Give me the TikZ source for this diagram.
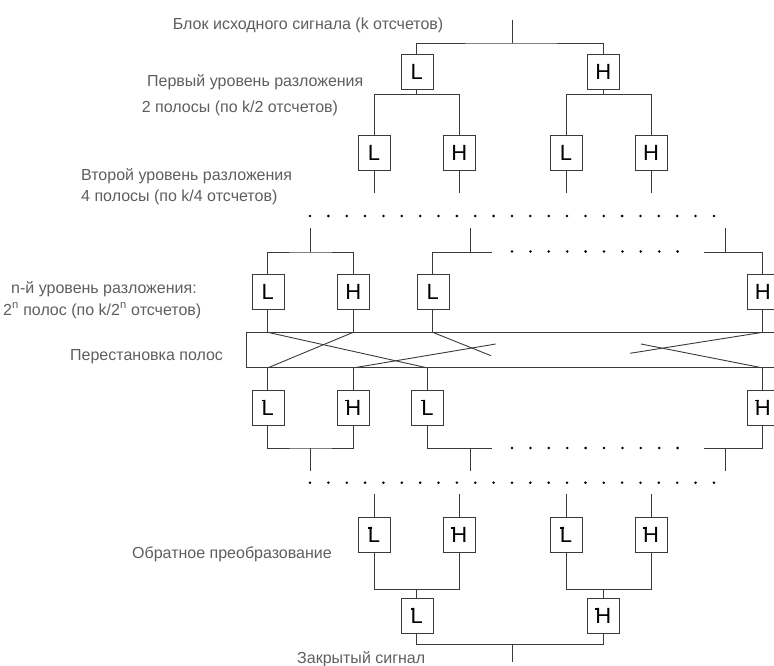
\documentclass[tikz,border=0pt]{standalone}
\usepackage{fontspec}
\setmainfont{Liberation Sans}

\definecolor{linegray}{HTML}{3A3A3A}
\definecolor{textgray}{HTML}{5E5E5E}

%% inverse filter letter (small tick on top)
\newcommand{\inv}[1]{\rlap{\kern0.0em\raisebox{0.63em}{\rule{0.17em}{0.08em}}}#1}

\tikzset{
  filt/.style={draw=linegray, fill=white, minimum width=32pt, minimum height=35pt,
    inner sep=0pt, font=\fontsize{22}{22}\selectfont},
  lbl/.style={anchor=base west, inner sep=0pt, text=textgray,
    font=\fontsize{16}{19}\selectfont},
  wire/.style={draw=linegray, line width=0.9pt},
}

\begin{document}
\begin{tikzpicture}[x=1pt, y=-1pt]
\useasboundingbox (0,0) rectangle (774,666);

%% labels
\node[lbl] at (172.7,29.3) (srclbl) {Блок исходного сигнала (k отсчетов)};
\node[lbl] at (147,87) (lev1a) {Первый уровень разложения};
\node[lbl] at (141.7,112.7) (lev1b) {2 полосы (по k/2 отсчетов)};
\node[lbl] at (81,181) (lev2a) {Второй уровень разложения};
\node[lbl] at (81,201.7) (lev2b) {4 полосы (по k/4 отсчетов)};
\node[lbl] at (11,293.3) (levna) {n-й уровень разложения:};
\node[lbl] at (3,315) (levnb) {2\textsuperscript{n} полос (по k/2\textsuperscript{n} отсчетов)};
\node[lbl] at (70,360.7) (permlbl) {Перестановка полос};
\node[lbl] at (132,558) (invlbl) {Обратное преобразование};
\node[lbl] at (297,663) (outlbl) {Закрытый сигнал};

%% first level
\node[filt] at (416.7,71.8) (L1) {L};
\node[filt] at (603.3,71.8) (H1) {H};

%% second level
\node[filt] at (374,152.5) (LL) {L};
\node[filt] at (459.3,152.5) (LH) {H};
\node[filt] at (566,152.5) (HL) {L};
\node[filt] at (651,152.5) (HH) {H};

%% n-th level
\node[filt] at (267.7,291.8) (nL1) {L};
\node[filt] at (353.3,291.8) (nH1) {H};
\node[filt] at (432.7,291.8) (nL2) {L};
\node[filt] at (762.7,291.8) (nHk) {H};

%% band permutation
\node[draw=linegray, line width=0.9pt, minimum width=540pt, minimum height=34.7pt,
  inner sep=0pt, anchor=north west] at (246,332.3) (perm) {};

%% inverse, n-th level
\node[filt] at (267.7,407.5) (iL1) {\inv{L}};
\node[filt] at (353.3,407.5) (iH1) {\inv{H}};
\node[filt] at (427.5,407.5) (iL2) {\inv{L}};
\node[filt] at (762.7,407.5) (iHk) {\inv{H}};

%% inverse, second level
\node[filt] at (374,534.8) (bLL) {\inv{L}};
\node[filt] at (459.3,534.8) (bLH) {\inv{H}};
\node[filt] at (566,534.8) (bHL) {\inv{L}};
\node[filt] at (651,534.8) (bHH) {\inv{H}};

%% inverse, first level
\node[filt] at (416.7,615.8) (rL) {\inv{L}};
\node[filt] at (603.3,615.8) (rH) {\inv{H}};

%% coordinates
\coordinate (src) at (512.7,20);
\coordinate (srcj) at (512.7,43);
\coordinate (j1) at (416.7,94.3);
\coordinate (j2) at (603.3,94.3);
\coordinate (row1) at (0,193.3);
\coordinate (tA) at (310.7,228.3);
\coordinate (jA) at (310.7,252);
\coordinate (tB) at (470,228.3);
\coordinate (jB) at (470,252);
\coordinate (eB) at (491.7,252);
\coordinate (tC) at (725.7,228.3);
\coordinate (jC) at (725.7,252);
\coordinate (eC) at (704,252);
\coordinate (xa) at (491,355.7);
\coordinate (xb) at (495.7,344);
\coordinate (xc) at (630,353.3);
\coordinate (xd) at (641,344);
\coordinate (kA) at (310.7,448);
\coordinate (bA) at (310.7,471);
\coordinate (kB) at (470,448);
\coordinate (bB) at (470,471);
\coordinate (fB) at (491.7,448);
\coordinate (kC) at (725.7,448);
\coordinate (bC) at (725.7,471);
\coordinate (fC) at (704,448);
\coordinate (row2) at (0,494.3);
\coordinate (m1) at (416.7,589.3);
\coordinate (m2) at (603.3,589.3);
\coordinate (out) at (512.7,644.3);
\coordinate (outend) at (512.7,661.7);

%% top tree
\draw[wire] (src) -- (srcj);
\draw[wire] (L1.north) |- (srcj) -| (H1.north);
\draw[wire] (L1) -- (j1);
\draw[wire] (H1) -- (j2);
\draw[wire] (LL.north) |- (j1) -| (LH.north);
\draw[wire] (HL.north) |- (j2) -| (HH.north);
\foreach \n in {LL,LH,HL,HH}
  \draw[wire] (\n.south) -- (\n.south |- row1);

%% dotted rows
\foreach \i in {0,...,22} {
  \fill ({310+18.36*\i},216) circle (1.4pt);
  \fill ({310+18.36*\i},482.7) circle (1.4pt);
}
\foreach \i in {0,...,9} {
  \fill ({512+18.4*\i},251.5) circle (1.4pt);
  \fill ({512+18.4*\i},448) circle (1.4pt);
}

%% n-th level tree
\draw[wire] (tA) -- (jA);
\draw[wire] (nL1.north) |- (jA) -| (nH1.north);
\draw[wire] (tB) -- (jB);
\draw[wire] (nL2.north) |- (eB);
\draw[wire] (tC) -- (jC);
\draw[wire] (eC) -| (nHk.north);
\foreach \n in {nL1,nH1,nL2,nHk}
  \draw[wire] (\n) -- (\n |- perm.north);

%% crossings
\draw[wire] (nL1 |- perm.north) -- (iL2 |- perm.south);
\draw[wire] (nH1 |- perm.north) -- (iL1 |- perm.south);
\draw[wire] (nL2 |- perm.north) -- (xa);
\draw[wire] (xb) -- (iH1 |- perm.south);
\draw[wire] (nHk |- perm.north) -- (xc);
\draw[wire] (xd) -- (iHk |- perm.south);
\foreach \n in {iL1,iH1,iL2,iHk}
  \draw[wire] (\n |- perm.south) -- (\n);

%% inverse n-th level tree
\draw[wire] (iL1.south) |- (kA) -| (iH1.south);
\draw[wire] (kA) -- (bA);
\draw[wire] (iL2.south) |- (fB);
\draw[wire] (kB) -- (bB);
\draw[wire] (fC) -| (iHk.south);
\draw[wire] (kC) -- (bC);

%% bottom tree
\foreach \n in {bLL,bLH,bHL,bHH}
  \draw[wire] (\n.north |- row2) -- (\n.north);
\draw[wire] (bLL.south) |- (m1) -| (bLH.south);
\draw[wire] (bHL.south) |- (m2) -| (bHH.south);
\draw[wire] (m1) -- (rL);
\draw[wire] (m2) -- (rH);
\draw[wire] (rL.south) |- (out) -| (rH.south);
\draw[wire] (out) -- (outend);
\end{tikzpicture}
\end{document}
